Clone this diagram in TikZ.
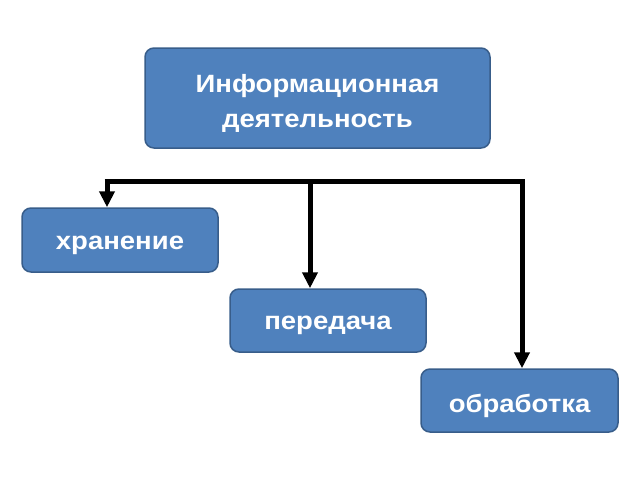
\documentclass[tikz,border=0pt]{standalone}
\usepackage{fontspec}
\setmainfont{Liberation Sans}
\newfontfamily\boxfont[FakeStretch=1.1]{Liberation Sans Bold}
\usetikzlibrary{arrows.meta}
\definecolor{boxblue}{HTML}{4F81BD}
\definecolor{boxedge}{HTML}{385D8A}

\begin{document}
\begin{tikzpicture}[x=1pt, y=-1pt,
		box/.style={fill=boxblue, draw=boxedge, line width=1.5pt, rounded corners=9pt},
		txt/.style={text=white, font=\boxfont\fontsize{25}{35}\selectfont, align=center, inner sep=0pt, yshift=-5pt},
		link/.style={line width=5pt},
		arr/.style={line width=5pt, -{Triangle[length=16pt, width=15pt]}}]
		\useasboundingbox (0,0) rectangle (640,480);
		\node[box, minimum width=345pt, minimum height=100pt, label={[txt]center:Информационная\\ деятельность}](info) at (317.5,98) {};
		\node[box, minimum width=196pt, minimum height=64pt, label={[txt]center:хранение}](store) at (120,240) {};
		\node[box, minimum width=196pt, minimum height=63pt, label={[txt]center:передача}](send) at (328,320.5) {};
		\node[box, minimum width=197pt, minimum height=63pt, label={[txt]center:обработка}](proc) at (519.5,400.5) {};
		\coordinate (busL) at (107,181);
		\coordinate (busM) at (310,181);
		\coordinate (busR) at (522,181);
		\draw[link] ([xshift=-2.5pt]busL) -- ([xshift=2.5pt]busR);
		\draw[arr] ([yshift=-2.5pt]busL) -- (busL |- store.north);
		\draw[arr] (busM) -- (busM |- send.north);
		\draw[arr] ([yshift=-2.5pt]busR) -- (busR |- proc.north);
	\end{tikzpicture}
\end{document}
